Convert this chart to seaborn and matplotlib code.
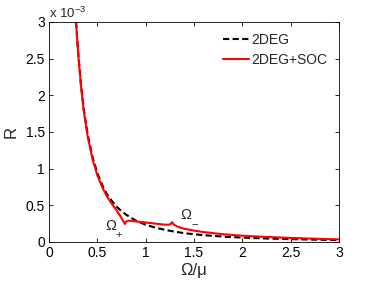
import matplotlib
matplotlib.use("Agg")
import matplotlib.pyplot as plt
import seaborn as sns
import pandas as pd

# Data (R in units of 1e-3)
x_2deg = [0.28, 0.30, 0.33, 0.36, 0.40, 0.45, 0.50, 0.55, 0.60, 0.65, 0.70, 0.75, 0.80, 0.85,
          0.90, 1.00, 1.10, 1.20, 1.30, 1.40, 1.50, 1.60, 1.80, 2.00, 2.25, 2.50, 2.75, 3.00]
r_2deg = [3.00, 2.61, 2.16, 1.81, 1.47, 1.16, 0.94, 0.78, 0.65, 0.56, 0.48, 0.42, 0.37, 0.33,
          0.29, 0.235, 0.195, 0.165, 0.14, 0.12, 0.105, 0.092, 0.073, 0.059, 0.047, 0.038, 0.031, 0.026]

x_soc = [0.28, 0.30, 0.33, 0.36, 0.40, 0.45, 0.50, 0.55, 0.60, 0.65, 0.70, 0.74, 0.77, 0.785,
         0.80, 0.83, 0.90, 1.00, 1.10, 1.20, 1.24, 1.265, 1.275, 1.29, 1.32, 1.36, 1.40, 1.50,
         1.60, 1.80, 2.00, 2.25, 2.50, 2.75, 3.00]
r_soc = [3.00, 2.60, 2.14, 1.78, 1.44, 1.13, 0.91, 0.75, 0.62, 0.52, 0.43, 0.35, 0.28, 0.245,
         0.28, 0.29, 0.28, 0.265, 0.25, 0.235, 0.235, 0.25, 0.27, 0.24, 0.215, 0.195, 0.18, 0.155,
         0.135, 0.105, 0.085, 0.068, 0.055, 0.044, 0.035]

x_ticks = [0, 0.5, 1, 1.5, 2, 2.5, 3]
y_ticks = [0, 0.5, 1, 1.5, 2, 2.5, 3]
labels = ["2DEG", "2DEG+SOC"]

sns.set_theme(style="white")
plt.rcParams["font.family"] = ["Liberation Sans", "DejaVu Sans"]
plt.rcParams["mathtext.fontset"] = "custom"
plt.rcParams["mathtext.rm"] = "Liberation Sans"
plt.rcParams["mathtext.it"] = "Liberation Sans"
plt.rcParams["xtick.direction"] = "in"
plt.rcParams["ytick.direction"] = "in"

df = pd.concat([
    pd.DataFrame({"x": x_2deg, "R": r_2deg, "series": labels[0]}),
    pd.DataFrame({"x": x_soc, "R": r_soc, "series": labels[1]}),
])

fig = plt.figure(figsize=(3.74, 2.81), dpi=100)
ax = fig.add_axes([0.131, 0.139, 0.775, 0.783])
sns.lineplot(data=df, x="x", y="R", hue="series", style="series",
             palette={labels[0]: "black", labels[1]: "#ff0000"},
             dashes={labels[0]: (3, 1.6), labels[1]: ""},
             linewidth=1.5, ax=ax, sort=False)

ax.set_xlim(0, 3)
ax.set_ylim(0, 3)
ax.set_xticks(x_ticks)
ax.set_yticks(y_ticks)
ax.set_xticklabels([f"{t:g}" for t in x_ticks], fontsize=10)
ax.set_yticklabels([f"{t:g}" for t in y_ticks], fontsize=10)
ax.tick_params(axis="both", which="both", direction="in", length=3, width=0.6,
               top=True, right=True, bottom=True, left=True, pad=3, colors="black")
for s in ax.spines.values():
    s.set_color("black")
    s.set_linewidth(0.6)
ax.set_xlabel("Ω/μ", fontsize=12, labelpad=2)
ax.set_ylabel("R", fontsize=12, labelpad=5)

ax.text(0.0, 1.005, r"x 10$^{-3}$", transform=ax.transAxes, fontsize=9.5, ha="left", va="bottom")
ax.text(0.64, 0.22, "Ω", fontsize=10.5, ha="center", va="center")
ax.text(0.725, 0.09, "+", fontsize=8, ha="center", va="center")
ax.text(1.42, 0.37, "Ω", fontsize=10.5, ha="center", va="center")
ax.text(1.51, 0.24, "−", fontsize=8, ha="center", va="center")

leg = ax.legend(loc="upper right", frameon=False, fontsize=10, handlelength=1.9,
                handletextpad=0.2, borderaxespad=0.4, labelspacing=0.45)

fig.savefig("out.png", dpi=100)
